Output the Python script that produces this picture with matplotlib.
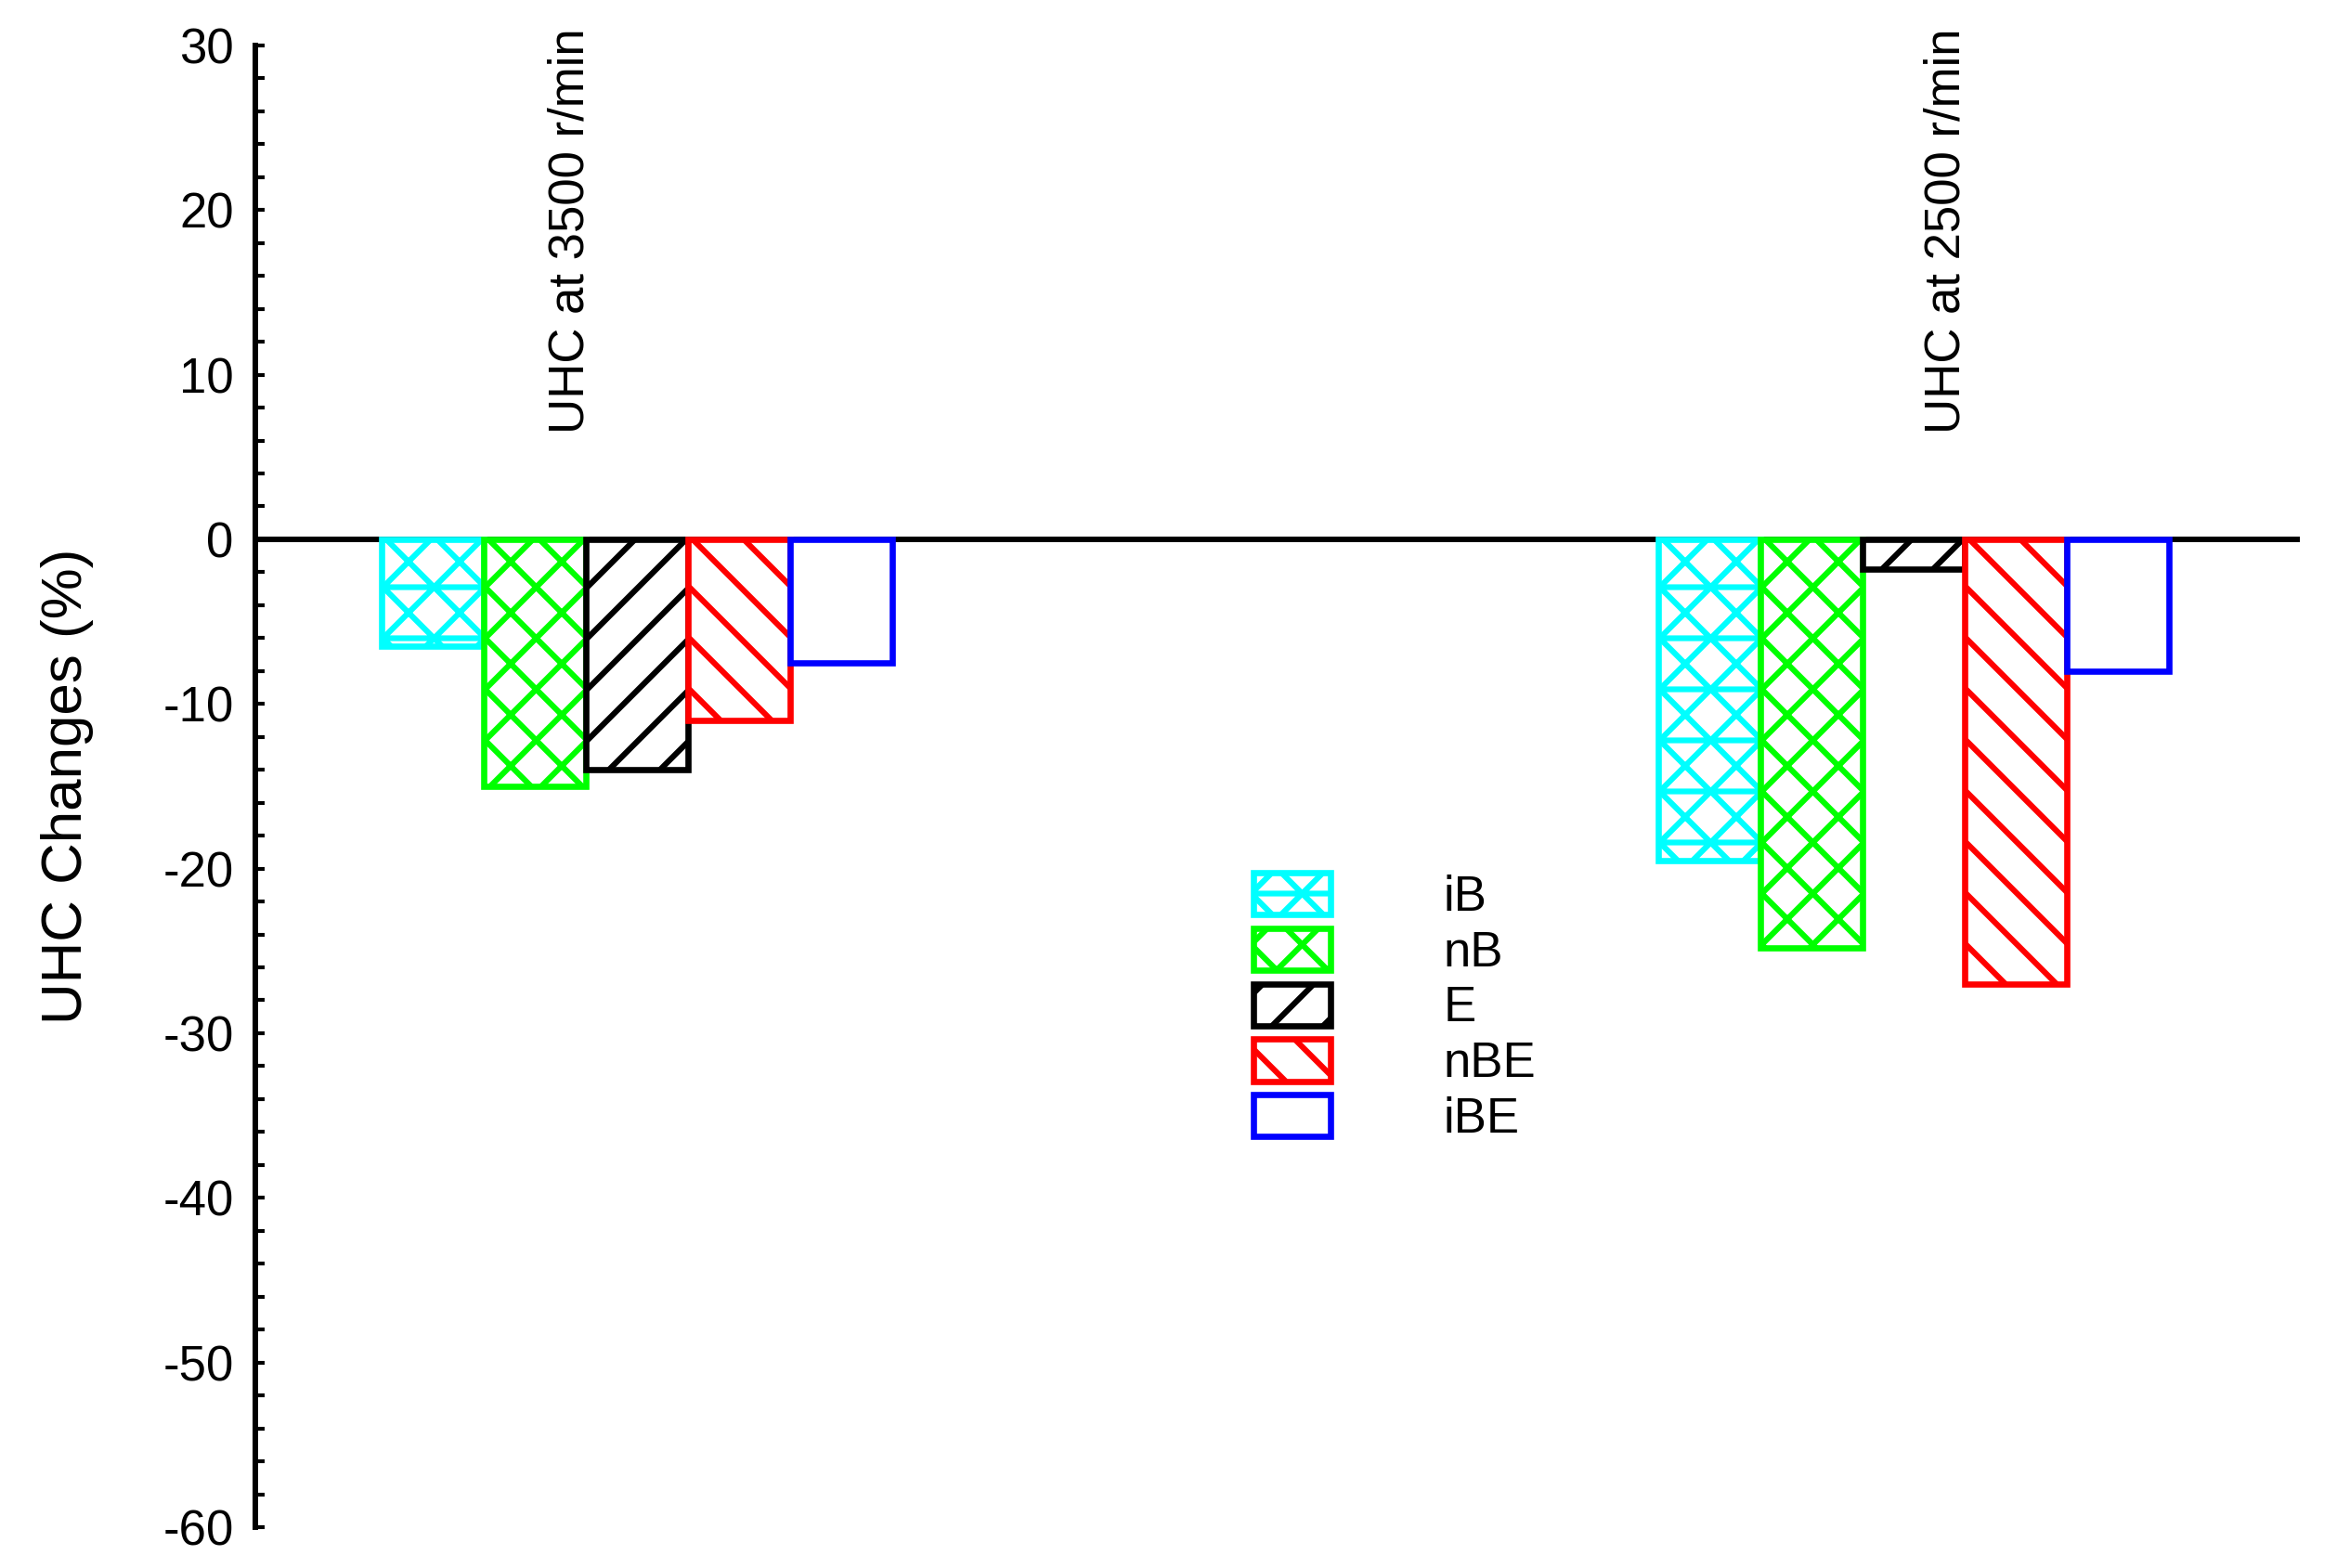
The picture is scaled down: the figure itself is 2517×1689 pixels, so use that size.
import numpy as np
import matplotlib
matplotlib.use('Agg')
import matplotlib.pyplot as plt

# values (UHC change, %)
fuels = ['iB', 'nB', 'E', 'nBE', 'iBE']
speeds = ['UHC at 3500 r/min', 'UHC at 2500 r/min']
uhc_3500 = [-6.5, -15.0, -14.0, -11.0, -7.5]
uhc_2500 = [-19.5, -24.8, -1.8, -27.0, -8.0]

colors = ['#00ffff', '#00ff00', '#000000', '#ff0000', '#0000ff']
hatches = ['xx-', 'xx', '//', '\\\\', '']

plt.rcParams['font.family'] = ['Liberation Sans', 'DejaVu Sans']
plt.rcParams['hatch.linewidth'] = 1.35
plt.rcParams['axes.unicode_minus'] = False

dpi = 330
fig = plt.figure(figsize=(2517 / dpi, 1689 / dpi), dpi=dpi)
ax = fig.add_axes([0.1091, 0.02605, 0.875, 0.945])

groups = np.array([1.0, 2.0])
w = 0.08
for i, fuel in enumerate(fuels):
    vals = [uhc_3500[i], uhc_2500[i]]
    ax.bar(groups + (i - 2) * w, vals, width=w, facecolor='white',
           edgecolor=colors[i], hatch=hatches[i], linewidth=1.45,
           label=fuel, zorder=2)

ax.axhline(0, color='black', linewidth=1.3, zorder=1)

ax.set_xlim(0.7009, 2.3025)
ax.set_ylim(-60, 30)
ax.set_yticks(np.arange(-60, 31, 10))
ax.set_yticks(np.arange(-60, 31, 2), minor=True)
ax.tick_params(axis='y', which='both', direction='in', length=2.2,
               width=0.9, labelsize=11.5, pad=5)
ax.set_xticks([])
for s in ['top', 'right', 'bottom']:
    ax.spines[s].set_visible(False)
ax.spines['left'].set_linewidth(1.3)

ax.text(0.948, 6.4, speeds[0], rotation=90, ha='center', va='bottom',
        fontsize=11.5)
ax.text(2.026, 6.4, speeds[1], rotation=90, ha='center', va='bottom',
        fontsize=11.5)

fig.text(0.029, 0.4985, 'UHC Changes (%)', rotation=90, ha='center',
         va='center', fontsize=13.5)

ax.legend(loc='upper left', bbox_to_anchor=(1350 / 2517, 1 - 940 / 1689),
          bbox_transform=fig.transFigure, frameon=False, fontsize=11.5,
          handlelength=1.575, handleheight=0.95, handletextpad=2.3,
          labelspacing=0.15, borderpad=0, borderaxespad=0)

fig.savefig('out.png', dpi=dpi, facecolor='white')
